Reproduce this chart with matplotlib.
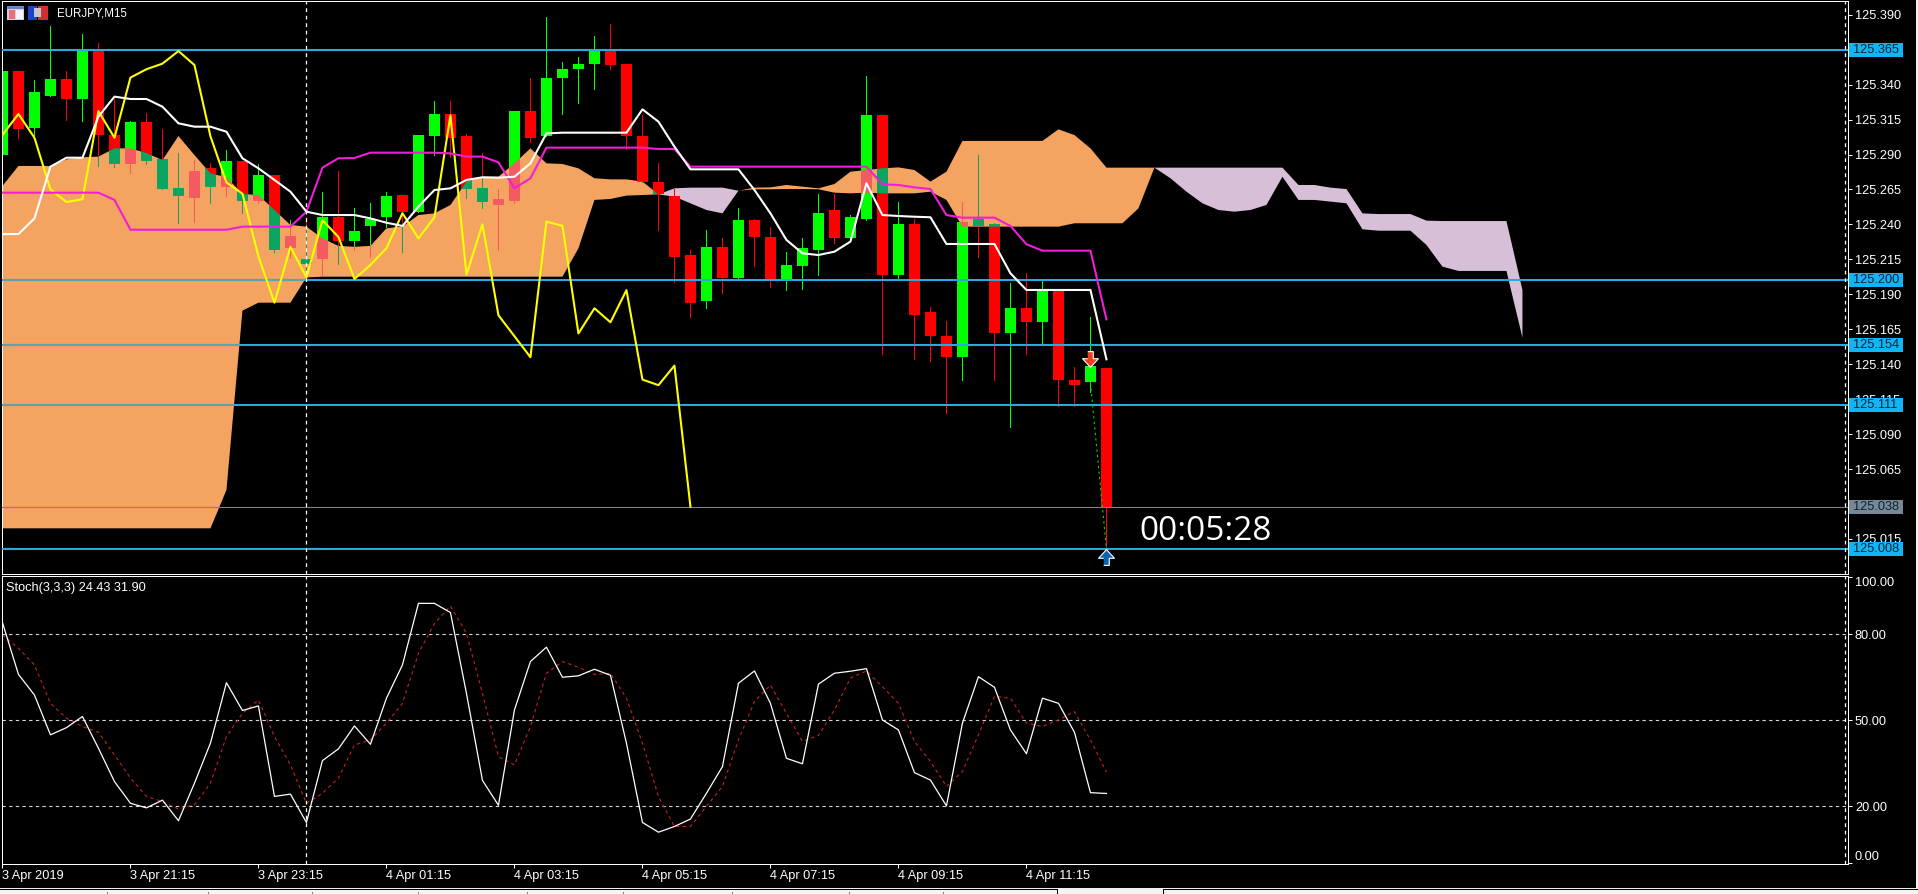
import numpy as np
import matplotlib
matplotlib.use("Agg")
import matplotlib.pyplot as plt
from matplotlib.patches import Rectangle
from matplotlib.path import Path

W, H = 1918, 894

opens = [125.290,125.350,125.309,125.332,125.344,125.330,125.364,125.304,125.283,125.313,125.287,125.266,125.259,125.280,125.267,125.285,125.257,125.275,125.223,125.215,
         125.215,125.245,125.228,125.239,125.245,125.261,125.249,125.303,125.319,125.303,125.266,125.254,125.257,125.321,125.303,125.345,125.351,125.355,125.364,125.355,
         125.303,125.270,125.260,125.218,125.185,125.224,125.202,125.243,125.231,125.201,125.210,125.222,125.250,125.230,125.244,125.318,125.204,125.240,125.177,125.160,
         125.145,125.244,125.240,125.162,125.180,125.170,125.193,125.129,125.127,125.137]
highs = [125.350,125.350,125.343,125.382,125.350,125.376,125.370,125.330,125.314,125.320,125.308,125.291,125.286,125.284,125.293,125.285,125.283,125.275,125.243,125.245,
         125.263,125.278,125.252,125.255,125.263,125.261,125.304,125.328,125.328,125.305,125.291,125.265,125.321,125.345,125.388,125.356,125.360,125.375,125.383,125.355,
         125.318,125.284,125.265,125.222,125.236,125.230,125.252,125.244,125.238,125.220,125.230,125.262,125.262,125.247,125.346,125.318,125.256,125.244,125.181,125.171,
         125.256,125.290,125.241,125.198,125.205,125.200,125.193,125.138,125.174,125.137]
lows = [125.290,125.302,125.304,125.332,125.315,125.314,125.282,125.281,125.277,125.283,125.265,125.241,125.242,125.255,125.260,125.248,125.255,125.220,125.216,125.201,
        125.204,125.212,125.222,125.217,125.238,125.220,125.249,125.290,125.288,125.259,125.252,125.222,125.255,125.299,125.303,125.319,125.327,125.337,125.351,125.294,
        125.270,125.236,125.199,125.174,125.180,125.191,125.202,125.210,125.195,125.193,125.194,125.204,125.227,125.230,125.243,125.147,125.202,125.144,125.142,125.105,
        125.129,125.217,125.129,125.095,125.147,125.155,125.110,125.110,125.120,125.008]
closes = [125.350,125.308,125.335,125.344,125.330,125.364,125.304,125.283,125.313,125.285,125.265,125.260,125.278,125.267,125.285,125.257,125.275,125.222,125.232,125.212,
          125.245,125.228,125.235,125.244,125.260,125.249,125.304,125.319,125.302,125.265,125.256,125.258,125.321,125.302,125.345,125.351,125.355,125.364,125.354,125.303,
          125.270,125.262,125.217,125.184,125.224,125.202,125.243,125.231,125.201,125.211,125.223,125.248,125.230,125.245,125.318,125.204,125.240,125.175,125.160,125.145,
          125.242,125.239,125.162,125.180,125.170,125.193,125.129,125.125,125.139,125.038]

tenkan = [125.2331,125.2331,125.2443,125.2813,125.2877,125.2877,125.3171,125.3314,125.3297,125.3297,125.3242,125.3123,125.3099,125.3099,125.3063,125.2873,125.2801,125.2718,125.2634,125.2491,
          125.2467,125.2467,125.2467,125.2443,125.2412,125.2389,125.2527,125.2646,125.2658,125.2718,125.2737,125.2734,125.2741,125.2837,125.3051,125.3056,125.3056,125.3056,125.3056,125.3056,
          125.3223,125.3135,125.2956,125.2794,125.2794,125.2794,125.2794,125.2646,125.2479,125.2289,125.2193,125.2181,125.2205,125.2277,125.2694,125.2467,125.2460,125.2455,125.2451,125.2260,
          125.2260,125.2260,125.2260,125.2050,125.1931,125.1931,125.1931,125.1931,125.1931,125.1435]
kijun = [125.2627,125.2627,125.2627,125.2627,125.2627,125.2627,125.2627,125.2575,125.2362,125.2362,125.2362,125.2362,125.2362,125.2362,125.2362,125.2384,125.2384,125.2384,125.2384,125.2491,
         125.2806,125.2873,125.2875,125.2913,125.2913,125.2913,125.2913,125.2913,125.2908,125.2885,125.2885,125.2844,125.2658,125.2730,125.2949,125.2949,125.2949,125.2949,125.2949,125.2949,
         125.2949,125.2939,125.2939,125.2813,125.2813,125.2813,125.2813,125.2813,125.2813,125.2813,125.2813,125.2813,125.2813,125.2813,125.2813,125.2687,125.2682,125.2665,125.2653,125.2467,
         125.2448,125.2448,125.2448,125.2389,125.2258,125.2212,125.2212,125.2212,125.2212,125.1721]

span_a = [125.2675,125.2818,125.2818,125.2818,125.2865,125.2880,125.2885,125.2944,125.2944,125.2910,125.2860,125.3032,125.2896,125.2765,125.2737,125.2618,125.2610,125.2503,125.2396,125.2384,
          125.2300,125.2246,125.2240,125.2246,125.2372,125.2384,125.2467,125.2479,125.2539,125.2706,125.2741,125.2741,125.2837,125.2944,125.2837,125.2832,125.2801,125.2730,125.2722,125.2722,
          125.2706,125.2615,125.2598,125.2551,125.2503,125.2479,125.2641,125.2663,125.2665,125.2682,125.2670,125.2658,125.2689,125.2777,125.2789,125.2801,125.2808,125.2789,125.2706,125.2777,
          125.2997,125.2997,125.2997,125.2997,125.2997,125.2997,125.3080,125.3039,125.2944,125.2806,125.2806,125.2806,125.2806,125.2730,125.2634,125.2551,125.2503,125.2491,125.2503,125.2539,
          125.2741,125.2575,125.2575,125.2563,125.2551,125.2365,125.2355,125.2355,125.2355,125.2253,125.2098,125.2067,125.2067,125.2067,125.2067,125.1590]
span_b = [125.0226,125.0226,125.0226,125.0226,125.0226,125.0226,125.0226,125.0226,125.0226,125.0226,125.0226,125.0226,125.0226,125.0226,125.0500,125.1783,125.1840,125.1840,125.1840,125.2021,
          125.2026,125.2026,125.2026,125.2026,125.2026,125.2026,125.2026,125.2026,125.2026,125.2026,125.2026,125.2026,125.2026,125.2026,125.2026,125.2026,125.2229,125.2575,125.2582,125.2606,
          125.2610,125.2615,125.2658,125.2663,125.2663,125.2663,125.2641,125.2651,125.2651,125.2653,125.2653,125.2651,125.2627,125.2622,125.2627,125.2622,125.2622,125.2622,125.2634,125.2575,
          125.2384,125.2384,125.2384,125.2384,125.2384,125.2384,125.2384,125.2408,125.2408,125.2408,125.2408,125.2515,125.2806,125.2806,125.2806,125.2806,125.2806,125.2806,125.2806,125.2806,
          125.2806,125.2682,125.2682,125.2663,125.2653,125.2479,125.2474,125.2474,125.2474,125.2427,125.2424,125.2424,125.2424,125.2424,125.2424,125.1931]

stoch_k = [84.1,66.0,58.8,44.9,47.4,51.3,40.2,28.6,21.0,19.4,22.1,14.9,28.0,42.0,63.1,53.4,55.0,23.4,24.2,14.3,
           35.9,40.0,48.0,41.6,57.7,69.3,90.8,90.8,87.6,59.4,29.0,20.3,53.6,70.5,75.5,65.0,65.5,67.8,65.7,42.0,
           14.3,10.9,12.9,15.5,24.5,33.8,62.9,67.2,55.9,36.7,34.8,62.6,66.4,67.1,68.0,50.1,46.6,31.7,29.1,20.1,
           49.0,65.2,61.5,46.6,38.3,57.7,55.9,45.8,24.7,24.43]
stoch_d = [79.8,75.1,69.3,55.9,50.7,47.8,45.8,37.9,29.8,23.4,21.6,19.0,20.5,28.0,44.3,52.4,57.1,44.3,34.4,21.0,
           24.5,29.8,41.4,43.1,49.0,55.9,73.4,83.8,89.9,80.3,59.4,37.3,34.4,47.8,66.4,70.5,68.5,66.0,66.4,57.7,
           42.0,23.4,12.9,12.9,19.9,26.9,43.1,56.5,62.3,52.4,42.6,44.7,53.6,64.7,67.2,61.7,55.9,42.6,35.6,26.9,
           32.1,44.9,58.3,57.7,49.0,47.8,50.1,53.0,43.1,31.90]

level_prices = [125.365, 125.200, 125.154, 125.111, 125.008]
bid_price = 125.038
price_ticks = [125.390,125.365,125.340,125.315,125.290,125.265,125.240,125.215,125.190,125.165,125.140,125.115,125.090,125.065,125.040,125.015]
hidden_price_ticks = [125.365, 125.040]
stoch_ticks = [100, 80, 50, 20, 0]
date_labels = ["3 Apr 2019","3 Apr 21:15","3 Apr 23:15","4 Apr 01:15","4 Apr 03:15","4 Apr 05:15","4 Apr 07:15","4 Apr 09:15","4 Apr 11:15"]
date_bars = [0, 8, 16, 24, 32, 40, 48, 56, 64]
tab_separators = [107, 208, 312, 418, 527, 623, 732, 849, 943]

FONT = "Liberation Sans"
plt.rcParams["font.family"] = FONT
plt.rcParams["axes.unicode_minus"] = False

fig = plt.figure(figsize=(W / 100, H / 100), dpi=100, facecolor="black")


def px_axes(x0, y0, x1, y1):
    return fig.add_axes([x0 / W, 1 - y1 / H, (x1 - x0) / W, (y1 - y0) / H], facecolor="black")


def px_rect(x, y, w, h, color, z=30):
    fig.add_artist(Rectangle((x / W, 1 - (y + h) / H), w / W, h / H, transform=fig.transFigure,
                             fc=color, ec="none", zorder=z, antialiased=False))


ax = px_axes(2, 1, 1848, 574)
sub = px_axes(2, 576, 1848, 864)

BAR_PX = 16.0
x_of = lambda px: (px - 2.45) / BAR_PX
XLIM = (x_of(2), x_of(1848))
for a in (ax, sub):
    a.set_xlim(*XLIM)
    for s in a.spines.values():
        s.set_color("white")
        s.set_linewidth(0.72)
ax.set_ylim(125.39 - (574 - 14.7) / 1398, 125.39 + 13.7 / 1398)
sub.set_ylim(-0.2, 100.35)

bars = np.arange(len(opens))
o, h, l, c = map(np.array, (opens, highs, lows, closes))
future = np.arange(len(span_a))
A, B = np.array(span_a), np.array(span_b)

orange = ax.fill_between(future, A, B, where=A >= B, interpolate=True, color="#F4A460", lw=0, zorder=1)
ax.fill_between(future, A, B, where=A < B, interpolate=True, color="#D8BFD8", lw=0, zorder=1)
cloud_path = Path.make_compound_path(*orange.get_paths())


def candles(up, down, z, clip=False):
    cols = [up if cc >= oo else down for oo, cc in zip(o, c)]
    wick = ax.vlines(bars, l, h, colors=cols, linewidth=0.72, zorder=z, antialiased=False)
    body = ax.bar(bars, np.abs(c - o), bottom=np.minimum(o, c), width=0.72, color=cols, lw=0,
                  zorder=z + 0.1, antialiased=False)
    if clip:
        wick.set_clip_path(cloud_path, ax.transData)
        for p in body.patches:
            p.set_clip_path(cloud_path, ax.transData)


candles("#00FF00", "#FF0000", 2)
candles("#F45B60", "#0BA460", 2.5, clip=True)

# horizontal levels
LEVEL = "#27A9E1"
for lv in level_prices:
    ax.axhline(lv, color=LEVEL, lw=1.5, zorder=3)
    ln = ax.axhline(lv, color="#5CA3AE", lw=1.5, zorder=3.1)
    ln.set_clip_path(cloud_path, ax.transData)
ax.axhline(bid_price, color="#808080", lw=0.8, zorder=3)
bl = ax.axhline(bid_price, color="#D050C0", lw=0.8, zorder=3.1)
bl.set_clip_path(cloud_path, ax.transData)

# ichimoku lines
ax.plot(bars[:len(c) - 26], c[26:], color="#FFFF00", lw=1.5, zorder=4, solid_joinstyle="round")
ax.plot(bars, kijun, color="#F21DD8", lw=1.5, zorder=4.1)
ax.plot(bars, tenkan, color="white", lw=1.5, zorder=4.2)

# trade link and arrows
ax.plot([68, 69], [125.1265, 125.008], color="#00E000", lw=0.8, ls=(0, (2, 3)), zorder=5)
down_arrow = [(-0.35, 1), (0.35, 1), (0.35, 0.1), (1, 0.1), (0, -1), (-1, 0.1), (-0.35, 0.1)]
up_arrow = [(x, -y) for x, y in down_arrow]
ax.scatter([68], [125.1435], marker=down_arrow, s=130, color="#E8401C", edgecolors="white", lw=0.8, zorder=6)
ax.scatter([69], [125.0023], marker=up_arrow, s=130, color="#0A63B0", edgecolors="white", lw=0.8, zorder=6)

# vertical separators
CURSOR_BAR = 19
EDGE_BAR = x_of(1844.5)
for a in (ax, sub):
    for vx in (CURSOR_BAR, EDGE_BAR):
        a.axvline(vx, color="white", lw=0.9, ls=(0, (3, 3)), zorder=7)

# stochastic
for lv in (80, 50, 20):
    sub.axhline(lv, color="#D8D8D8", lw=0.8, ls=(0, (3, 3)), zorder=1)
sub.plot(bars, stoch_d, color="#C62020", lw=0.8, ls=(0, (3, 3)), zorder=2)
sub.plot(bars, stoch_k, color="white", lw=0.9, zorder=3)

# price axis
ax.set_xticks([])
ax.yaxis.tick_right()
ax.set_yticks(price_ticks)
ax.set_yticklabels(["" if t in hidden_price_ticks else f"{t:.3f}" for t in price_ticks], color="white", fontsize=9.2)
ax.tick_params(axis="y", color="white", length=3, width=0.72, pad=2, right=True, left=False)

sub.yaxis.tick_right()
sub.set_yticks(stoch_ticks)
sub.set_yticklabels([f"{t:.2f}" for t in stoch_ticks], color="white", fontsize=9.2)
sub.tick_params(axis="y", color="white", length=3, width=0.72, pad=2, right=True, left=False)
labs = sub.get_yticklabels()
labs[0].set_va("top")
labs[-1].set_va("bottom")
labs[0].set_y(99.2)
labs[-1].set_y(0.6)

sub.set_xticks(date_bars)
sub.set_xticklabels(date_labels, ha="left", color="white", fontsize=9.2)
sub.tick_params(axis="x", color="white", length=3, width=0.72, pad=1.5)

# price flags
for lv, col in [(v, "#11B5F5") for v in level_prices] + [(bid_price, "#778899")]:
    ax.add_patch(Rectangle((1 + 1 / 1846, lv - 0.005), 54 / 1846, 0.01, transform=ax.get_yaxis_transform(),
                           fc=col, ec="none", clip_on=False, zorder=9))
    ax.text(1 + 5 / 1846, lv, f"{lv:.3f}", transform=ax.get_yaxis_transform(), color="#08242F",
            fontsize=9.2, va="center", ha="left", clip_on=False, zorder=10)

# captions
ax.text(55 / 1846, 1 - 12.7 / 573, "EURJPY,M15", transform=ax.transAxes, color="white", fontsize=8.3, va="center", zorder=10)
sub.text(4 / 1846, 1 - 11.5 / 288, "Stoch(3,3,3) 24.43 31.90", transform=sub.transAxes, color="white",
         fontsize=9.2, va="center", zorder=10)
ax.text(x_of(1139), 125.0201, "00:05:28", color="white", fontsize=24, family="Open Sans", va="center", ha="left", zorder=10)

# window chrome
px_rect(7, 6, 17, 14, "#C8D2F0")
px_rect(7, 6, 17, 3, "#6F80C8")
px_rect(9, 10, 6, 9, "#F07070")
px_rect(16, 10, 7, 9, "#F4F4FA")
px_rect(28, 6, 9, 14, "#2040D0")
px_rect(38, 6, 10, 14, "#D03030")
px_rect(34, 8, 7, 9, "#C8C8D0")

px_rect(0, 888, W, 1, "#F0F0F0")
px_rect(0, 889, W, 1, "black")
px_rect(0, 890, W, 4, "#F4F4F4")
px_rect(1057, 889, 106, 1, "#F4F4F4")
px_rect(1057, 889, 1, 5, "black")
px_rect(1163, 889, 1, 5, "black")
for tx in tab_separators:
    px_rect(tx, 892, 1, 2, "#808080")
px_rect(1916, 0, 2, 889, "#F0F0F0")

fig.savefig("out.png", dpi=100, facecolor="black")
